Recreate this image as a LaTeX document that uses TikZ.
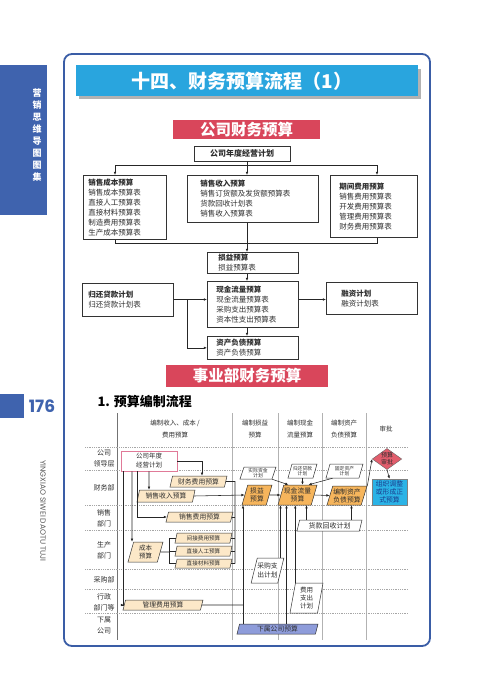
\documentclass[tikz,border=0pt]{standalone}
\usepackage{fontspec}
\setmainfont{Noto Sans CJK SC}
\newfontfamily\popfont{Poppins}
\usetikzlibrary{shapes.geometric,arrows.meta}
\definecolor{sideblue}{HTML}{3F63AE}
\definecolor{frameblue}{HTML}{3A5DA6}
\definecolor{titleblue}{HTML}{29A5DE}
\definecolor{redbox}{HTML}{D9465B}
\definecolor{lightor}{HTML}{FCE8C8}
\definecolor{orange1}{HTML}{F6B55C}
\definecolor{pinkb}{HTML}{E07A98}
\definecolor{diared}{HTML}{E25D6C}
\definecolor{cyanb}{HTML}{2BB3E6}
\definecolor{navy}{HTML}{1B3C8C}
\definecolor{lav}{HTML}{8E9CDA}
\definecolor{txt}{HTML}{2E2E2E}
\newcommand\myfs[2]{\fontsize{#1}{#2}\selectfont}
\begin{document}
\begin{tikzpicture}[x=1pt,y=-1pt,
 arr/.style={-{Latex[length=3.2pt,width=2.6pt]}},
 ln/.style={draw=black!85, line width=0.55pt},
 box/.style={draw=black!80, line width=0.7pt, fill=white, align=left, anchor=north west, inner ysep=0pt, text=txt, font=\myfs{7.5}{10}},
 redtitle/.style={fill=redbox, text=white, inner sep=0pt, font=\bfseries\myfs{15.5}{18}},
 par/.style={trapezium, trapezium left angle=68, trapezium right angle=112, trapezium stretches body, draw=black!80, line width=0.5pt, inner sep=0pt, align=center, text=txt},
 lpar/.style={par, fill=lightor},
 opar/.style={par, fill=orange1},
 wpar/.style={par, fill=white},
 lane/.style={text=txt, font=\myfs{7}{11}, align=center},
 hdr/.style={text=txt, font=\myfs{6.5}{12}, align=center},
 grid/.style={draw=black!35, line width=0.4pt, dash pattern=on 1pt off 0.8pt},
]
\useasboundingbox (0,0) rectangle (500,696);
\fill[white] (0,0) rectangle (500,696);

% sidebar
\fill[sideblue] (0,65) rectangle (47,215);
\node[text=white, font=\bfseries\myfs{9}{12}, align=center] (side) at (37,135) {营\\销\\思\\维\\导\\图\\图\\集};
\fill[sideblue] (0,394) rectangle (24,418);
\node[text=sideblue, font=\popfont\bfseries\myfs{17}{20}] (pg) at (42,406) {176};
\node[rotate=-90, text=black!65, font=\popfont\myfs{7.6}{9}] (yx) at (43,511) {YINGXIAO SIWEI DAOTU TUJI};

% frame
\draw[frameblue, line width=1.8pt, rounded corners=8pt] (64,54) rectangle (430,646);

% title
\fill[black!30] (79,69) rectangle (421,99);
\fill[titleblue] (76,65) rectangle (418,96);
\node[text=white, font=\bfseries\myfs{19}{22}] (title) at (242,81) {十四、财务预算流程（1）};

% company budget
\node[redtitle, minimum width=147pt, minimum height=19pt] (t1) at (246.5,129.5) {公司财务预算};
\node[draw=black!80, line width=0.7pt, fill=white, minimum width=96pt, minimum height=15pt, inner sep=0pt, font=\bfseries\myfs{8}{10}, text=txt] (plan) at (242,153.5) {公司年度经营计划};

\node[box, inner xsep=5pt, text width=73pt, minimum height=64pt] (cost) at (83,175) {\textbf{销售成本预算}\\销售成本预算表\\直接人工预算表\\直接材料预算表\\制造费用预算表\\生产成本预算表};
\node[box, inner xsep=13pt, text width=105pt, minimum height=47pt] (rev) at (187,175) {\textbf{销售收入预算}\\销售订货额及发货额预算表\\货款回收计划表\\销售收入预算表};
\node[box, inner xsep=9pt, text width=69pt, minimum height=62pt] (period) at (330,175) {\textbf{期间费用预算}\\销售费用预算表\\开发费用预算表\\管理费用预算表\\财务费用预算表};
\node[box, inner xsep=11pt, text width=69pt, minimum height=21pt] (pl) at (207,252) {\textbf{损益预算}\\损益预算表};
\node[box, inner xsep=9pt, text width=73pt, minimum height=46pt] (cash) at (207,281) {\textbf{现金流量预算}\\现金流量预算表\\采购支出预算表\\资本性支出预算表};
\node[box, inner xsep=9pt, text width=73pt, minimum height=23pt] (bs) at (207,336) {\textbf{资产负债预算}\\资产负债预算};
\node[box, inner xsep=6pt, text width=79pt, minimum height=33pt] (loan) at (82,283) {\textbf{归还贷款计划}\\归还贷款计划表};
\node[box, inner xsep=15pt, text width=61pt, minimum height=32pt] (fin) at (326,282) {\textbf{融资计划}\\融资计划表};

\coordinate (h1) at (247,165); \coordinate (hl) at (115,165); \coordinate (hr) at (377,165);
\draw[ln] (h1 |- plan.south) -- (h1);
\draw[ln] (hl) -- (hr);
\draw[ln,arr] (hl) -- (hl |- cost.north);
\draw[ln,arr] (h1) -- (h1 |- rev.north);
\draw[ln,arr] (hr) -- (hr |- period.north);
\coordinate (bl) at (115,243); \coordinate (br) at (377,243); \coordinate (bm) at (247,243);
\draw[ln] (bl |- cost.south) -- (bl) -- (br) -- (br |- period.south);
\draw[ln] (bm |- rev.south) -- (bm);
\draw[ln,arr] (bm) -- (bm |- pl.north);
\draw[ln,arr] (bm |- pl.south) -- (bm |- cash.north);
\draw[ln,arr] (bm |- cash.south) -- (bm |- bs.north);
\coordinate (jn) at (187,299.5);
\draw[ln] (loan.east |- jn) -- (jn);
\draw[ln,arr] (jn) -- (jn -| cash.west);
\draw[ln,arr] (jn) |- (bs.west);
\draw[ln,arr] (cash.east |- jn) -- (fin.west |- jn);

% division budget
\node[redtitle, minimum width=162pt, minimum height=22pt] (t2) at (247,376) {事业部财务预算};
\node[anchor=west, text=black, font=\bfseries\myfs{13}{15}] (sub) at (94,402) {1. 预算编制流程};

% table
\draw[black!55, line width=0.6pt] (117,413) -- (117,640);
\foreach \x in {232,278,322,366} \draw[draw=black!30, line width=0.4pt] (\x,413) -- (\x,640);
\foreach \y in {447,470,505,530,569,589,613} \draw[grid] (85,\y) -- (408,\y);

\node[hdr] (hd1) at (175,429) {编制收入、成本 /\\费用预算};
\node[hdr] (hd2) at (255,429) {编制损益\\预算};
\node[hdr] (hd3) at (300,429) {编制现金\\流量预算};
\node[hdr] (hd4) at (344,429) {编制资产\\负债预算};
\node[hdr] (hd5) at (386,429) {审批};

\node[lane] (l1) at (104,458.5) {公司\\领导层};
\node[lane] (l2) at (104,488) {财务部};
\node[lane] (l3) at (104,518.5) {销售\\部门};
\node[lane] (l4) at (104,550.5) {生产\\部门};
\node[lane] (l5) at (104,580) {采购部};
\node[lane] (l6) at (104,602) {行政\\部门等};
\node[lane] (l7) at (104,625.5) {下属\\公司};

% nodes
\node[draw=pinkb, line width=0.8pt, fill=white, minimum width=56pt, minimum height=20pt, inner sep=0pt, align=center, font=\myfs{6.5}{9}, text=txt] (plan2) at (149,461) {公司年度\\经营计划};
\node[lpar, minimum width=57pt, minimum height=11pt, font=\myfs{6.8}{8}] (ff) at (198.5,481.5) {财务费用预算};
\node[lpar, minimum width=58pt, minimum height=12pt, font=\myfs{6.8}{8}] (sr) at (166,496) {销售收入预算};
\node[lpar, minimum width=67pt, minimum height=10pt, font=\myfs{6.8}{8}] (sf) at (199.5,517) {销售费用预算};
\node[lpar, minimum width=35pt, minimum height=20pt, font=\myfs{6.5}{8}] (cb) at (145.5,552) {成本\\预算};
\node[lpar, minimum width=57pt, minimum height=10pt, font=\myfs{5.6}{7}] (jj) at (203.5,538) {间接费用预算};
\node[lpar, minimum width=57pt, minimum height=10pt, font=\myfs{5.6}{7}] (rg) at (203.5,551) {直接人工预算};
\node[lpar, minimum width=57pt, minimum height=9pt, font=\myfs{5.6}{7}] (cl) at (203.5,563.5) {直接材料预算};
\node[lpar, minimum width=80pt, minimum height=10pt, font=\myfs{6.8}{8}] (gl) at (163,605) {管理费用预算};

\node[opar, minimum width=30pt, minimum height=20pt, font=\myfs{6.8}{8}] (sy) at (257,495) {损益\\预算};
\node[opar, minimum width=39pt, minimum height=20pt, font=\myfs{6.8}{8}] (xj) at (297.5,495) {现金流量\\预算};
\node[opar, minimum width=40pt, minimum height=19pt, font=\myfs{6.8}{8}] (zc) at (347,495.5) {编制资产\\负债预算};

\node[wpar, minimum width=36pt, minimum height=12pt, font=\myfs{4.8}{5.5}] (sj) at (258,473) {实际资金\\计划};
\node[wpar, minimum width=29pt, minimum height=14pt, font=\myfs{4.8}{5.5}] (gh) at (302.5,471) {归还贷款\\计划};
\node[wpar, minimum width=37pt, minimum height=14pt, font=\myfs{4.8}{5.5}] (gd) at (344.5,471) {固定资产\\计划};
\node[wpar, minimum width=65pt, minimum height=11pt, font=\myfs{7}{8}] (hk) at (329.5,525.5) {货款回收计划};
\node[wpar, minimum width=31pt, minimum height=25pt, font=\myfs{6.8}{9}] (cg) at (267.5,570.5) {采购支\\出计划};
\node[wpar, trapezium left angle=76, trapezium right angle=104, minimum width=33pt, minimum height=30pt, font=\myfs{6.5}{8}] (fy) at (306.5,598) {费用\\支出\\计划};
\node[par, fill=lav, minimum width=81pt, minimum height=10pt, font=\myfs{6.8}{8}] (xs) at (277.5,629) {下属公司预算};

\node[diamond, aspect=1.4, fill=diared, draw=black!60, line width=0.4pt, inner sep=0pt, align=center, font=\myfs{6}{7}, text=txt] (sp) at (387,459) {预算\\审批};
\node[fill=cyanb, draw=black!50, line width=0.4pt, minimum width=35pt, minimum height=26pt, inner sep=0pt, align=center, font=\myfs{6.8}{8}, text=navy] (zs) at (389.5,492) {组织调整\\或形成正\\式预算};

% connectors
\draw[ln,arr] (plan2.east) -| ([xshift=3.5pt]ff.north);
\draw[ln,arr] (plan2.south -| 149,0) -- ([xshift=-17pt]sr.north);
\draw[ln,arr] ([xshift=-12pt]plan2.south) |- (sf.west);
\draw[ln,arr] ([xshift=-17pt]plan2.south) -- ([xshift=-13.5pt]cb.north);
\draw[ln,arr] ([xshift=-26pt]plan2.south) |- (gl.west);

\coordinate (bk) at (169,552);
\draw[ln] (cb.east) -- (bk);
\draw[ln] (bk |- jj.west) -- (bk |- cl.west);
\draw[ln] (bk |- jj.west) -- (jj.west);
\draw[ln] (bk |- rg.west) -- (rg.west);
\draw[ln] (bk |- cl.west) -- (cl.west);

\coordinate (c1) at (235,481.5);
\draw[ln] (ff.east) -- (c1) -- (c1 |- cl.east);
\draw[ln] (sf.east) -- (sf.east -| c1);
\draw[ln] (jj.east) -- (jj.east -| c1);
\draw[ln] (rg.east) -- (rg.east -| c1);
\draw[ln] (cl.east) -- (cl.east -| c1);
\draw[ln,arr] (sr.east) -- (sy.west);
\coordinate (c2) at (243,605);
\draw[ln] (gl.east) -- (c2);
\draw[ln,arr] (c2 |- xs.north) -- (c2 |- sy.south);

\draw[ln,arr] (sy.east) -- (xj.west);
\draw[ln,arr] (xj.east) -- (zc.west);
\draw[ln,arr] (sj.bottom right corner) -- ([xshift=-9pt]xj.north);
\draw[ln,arr] (gh.south) -- (gh.south |- xj.north);
\draw[ln,arr] ([xshift=-12pt]gd.south) -- ([xshift=11pt]xj.north);
\draw[ln,arr] ([xshift=-23pt]hk.north) -- ([xshift=-23pt]hk.north |- xj.south);
\draw[ln,arr] ([xshift=22pt]hk.north) -- ([xshift=22pt]hk.north |- zc.south);
\draw[ln,arr] ([xshift=13pt]cg.north) -- ([xshift=13pt]cg.north |- xj.south);
\draw[ln,arr] ([xshift=9pt]xs.north) -- ([xshift=9pt]xs.north |- xj.south);
\draw[ln,arr] (fy.top left corner) -- (fy.top left corner |- xj.south);
\draw[ln,arr] (zc.top right corner) -- (sp.west);
\draw[ln,arr] (sp.south) -- (zs.north);
\end{tikzpicture}
\end{document}
